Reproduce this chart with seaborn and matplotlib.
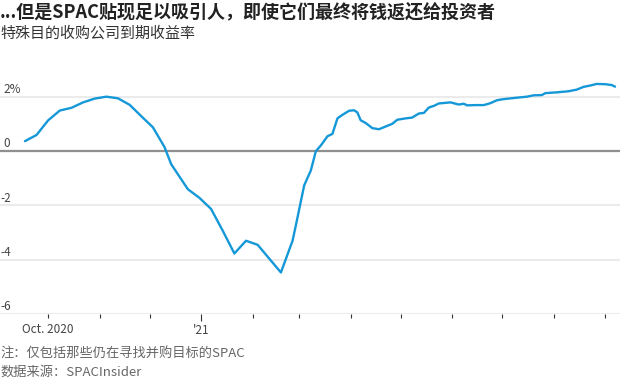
import matplotlib
matplotlib.use('Agg')
import matplotlib.pyplot as plt
import matplotlib.dates as mdates
import matplotlib.transforms as mtransforms
import pandas as pd
import seaborn as sns

# data
dates = ['2020-09-17', '2020-09-24', '2020-10-01', '2020-10-08', '2020-10-15', '2020-10-22',
         '2020-10-29', '2020-11-05', '2020-11-12', '2020-11-19', '2020-11-26', '2020-12-03',
         '2020-12-10', '2020-12-14', '2020-12-24', '2020-12-31', '2021-01-07', '2021-01-14',
         '2021-01-21', '2021-01-28', '2021-02-04', '2021-02-11', '2021-02-18', '2021-02-25',
         '2021-02-27', '2021-03-04', '2021-03-08', '2021-03-11', '2021-03-14', '2021-03-18',
         '2021-03-21', '2021-03-24', '2021-03-27', '2021-03-31', '2021-04-03', '2021-04-05',
         '2021-04-07', '2021-04-10', '2021-04-14', '2021-04-18', '2021-04-22', '2021-04-26',
         '2021-04-29', '2021-05-04', '2021-05-08', '2021-05-12', '2021-05-15', '2021-05-18',
         '2021-05-21', '2021-05-24', '2021-05-31', '2021-06-05', '2021-06-08', '2021-06-10',
         '2021-06-15', '2021-06-20', '2021-06-24', '2021-06-28', '2021-07-02', '2021-07-08',
         '2021-07-16', '2021-07-20', '2021-07-25', '2021-07-27', '2021-08-03', '2021-08-10',
         '2021-08-15', '2021-08-19', '2021-08-23', '2021-08-27', '2021-09-01', '2021-09-05',
         '2021-09-07']
yields = [0.37, 0.60, 1.14, 1.50, 1.60, 1.80,
          1.94, 2.01, 1.95, 1.71, 1.29, 0.88,
          0.15, -0.48, -1.40, -1.72, -2.13, -2.93,
          -3.77, -3.30, -3.45, -3.96, -4.47, -3.30,
          -2.73, -1.26, -0.71, 0.00, 0.21, 0.55,
          0.64, 1.21, 1.34, 1.49, 1.51, 1.43,
          1.14, 1.04, 0.85, 0.81, 0.91, 1.01,
          1.16, 1.21, 1.24, 1.39, 1.41, 1.61,
          1.67, 1.76, 1.80, 1.72, 1.75, 1.69,
          1.70, 1.70, 1.77, 1.88, 1.92, 1.96,
          2.01, 2.06, 2.07, 2.14, 2.17, 2.21,
          2.27, 2.37, 2.42, 2.48, 2.47, 2.44,
          2.38]

y_ticks = [-6, -4, -2, 0, 2]
y_labels = ['-6', '-4', '-2', '0', '2%']

title = '...但是SPAC贴现足以吸引人，即使它们最终将钱返还给投资者'
subtitle = '特殊目的收购公司到期收益率'
note = '注：仅包括那些仍在寻找并购目标的SPAC'
source = '数据来源：SPACInsider'

df = pd.DataFrame({'date': pd.to_datetime(dates), 'yield': yields})

sns.set_style('white')
plt.rcParams['font.family'] = ['Noto Sans CJK SC', 'DejaVu Sans']

fig = plt.figure(figsize=(6.2, 3.8), dpi=100)
ax = fig.add_axes([0, 0.1737, 1, 0.614])

# grid lines
for v in y_ticks:
    if v == 0:
        ax.axhline(v, color='#8f8f8f', lw=1.6, zorder=1)
    else:
        ax.axhline(v, color='#ebebeb', lw=1.5, zorder=0)

sns.lineplot(data=df, x='date', y='yield', ax=ax, color='#1598d8', lw=1.7, zorder=3)

ax.set_ylim(-6, 2.6)
ax.set_xlim(pd.Timestamp('2020-09-02'), pd.Timestamp('2021-09-10'))
ax.set_xlabel('')
ax.set_ylabel('')
ax.set_yticks([])
for s in ax.spines.values():
    s.set_visible(False)

# y labels sitting above the grid lines
trans = mtransforms.blended_transform_factory(ax.transAxes, ax.transData)
for v, lab in zip(y_ticks, y_labels):
    x0 = 0.0 if lab.startswith('-') else 0.006
    ax.text(x0, v + 0.03, lab, transform=trans, ha='left', va='bottom',
            fontsize=8.5, color='#444444')


# x ticks: year start long, months short
def month_fmt(x, pos=None):
    d = mdates.num2date(x)
    if d.year == 2020 and d.month == 10:
        return 'Oct. 2020'
    return ''


ax.xaxis.set_major_locator(mdates.YearLocator())
ax.xaxis.set_major_formatter(mdates.DateFormatter("'%y"))
ax.xaxis.set_minor_locator(mdates.MonthLocator())
ax.xaxis.set_minor_formatter(plt.FuncFormatter(month_fmt))
ax.tick_params(axis='x', which='major', bottom=True, length=5, width=0.8,
               color='#333333', pad=2.2, labelsize=8.5, labelcolor='#444444')
ax.tick_params(axis='x', which='minor', bottom=True, length=3, width=0.8,
               color='#333333', pad=3.8, labelsize=8.5, labelcolor='#444444')

fig.text(0.0, 1 - 12 / 380, title, ha='left', va='center', fontsize=13,
         fontweight='bold', color='#222222')
fig.text(0.0, 1 - 33 / 380, subtitle, ha='left', va='center', fontsize=10.8,
         color='#333333')
fig.text(0.0, 1 - 354 / 380, note, ha='left', va='center', fontsize=9.5,
         color='#666666')
fig.text(0.0, 1 - 372 / 380, source, ha='left', va='center', fontsize=9.5,
         color='#666666')

fig.savefig('out.png', dpi=100)
